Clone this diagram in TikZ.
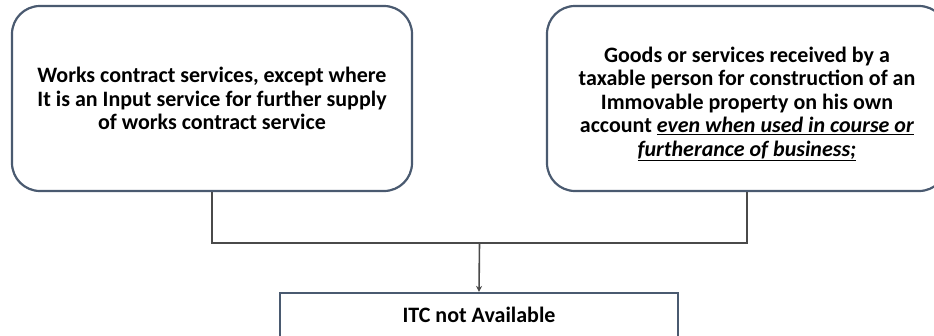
\documentclass[tikz,border=0pt]{standalone}
\usepackage{fontspec}
\setmainfont{Carlito}
\usetikzlibrary{arrows.meta}
\definecolor{slate}{HTML}{4A5A70}
\definecolor{conncol}{HTML}{4A4A4A}
\begin{document}
\begin{tikzpicture}[x=1pt,y=-1pt,
  rbox/.style={draw=slate, line width=2.2pt, rounded corners=28pt, minimum width=400pt, minimum height=185pt, inner sep=0pt},
  pbox/.style={draw=slate, line width=2.2pt, minimum width=398pt, minimum height=80pt, inner sep=0pt},
  txt/.style={align=center, font=\bfseries\fontsize{22}{23.5}\selectfont, inner sep=0pt},
  conn/.style={draw=conncol, line width=1.6pt},
  arr/.style={conn, -{Stealth[length=6pt,width=6pt]}}]
\useasboundingbox (0,0) rectangle (934,335);
\clip (0,0) rectangle (934,335);
\node[rbox] (L) at (212,98.5) {};
\node[rbox] (R) at (747,98.5) {};
\node[pbox] (B) at (479,333) {};
\node[txt] (Lt) at (212,98.5) {Works contract services, except where\\It is an Input service for further supply\\of works contract service};
\node[txt] (Rt) at (747,104) {Goods or services received by a\\taxable person for construction of an\\Immovable property on his own\\account \underline{\textit{even when used in course or}}\\\underline{\textit{furtherance of business;}}};
\node[txt] (Bt) at (479,315) {ITC not Available};
\coordinate (J) at (479.5,243);
\draw[conn] (L.south) |- (J) -| (R.south);
\draw[arr] (J) -- (B.north);
\end{tikzpicture}
\end{document}
